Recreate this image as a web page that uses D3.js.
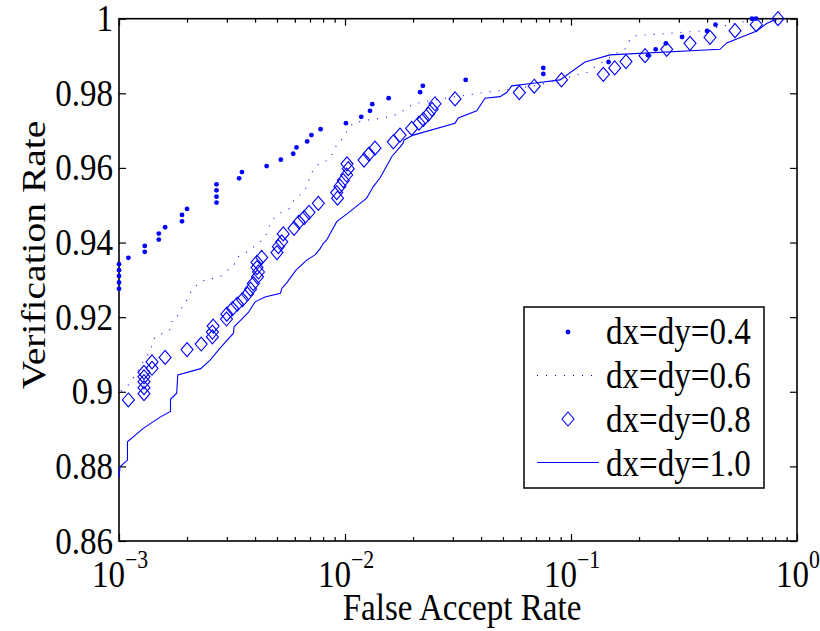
<!DOCTYPE html>
<html>
<head>
<meta charset="utf-8">
<script src="https://cdn.jsdelivr.net/npm/d3@7/dist/d3.min.js"></script>
<style>
  html, body { margin: 0; padding: 0; background: #fff; }
</style>
</head>
<body>
<svg id="chart" width="820" height="631" font-family="'Liberation Serif', 'DejaVu Serif', serif"></svg>
<script>
// Verification rate vs. false accept rate for four grid spacings

const seriesNames = ["dx=dy=0.4", "dx=dy=0.6", "dx=dy=0.8", "dx=dy=1.0"];

// dx=dy=0.4 (dot markers)
const far04 = [0.001, 0.001, 0.001, 0.001, 0.001, 0.0011, 0.0013, 0.0013, 0.0015, 0.0015,
  0.0016, 0.0019, 0.0019, 0.0020, 0.0027, 0.0027, 0.0027, 0.0027, 0.0034, 0.0035,
  0.0045, 0.0052, 0.0059, 0.0061, 0.0068, 0.0071, 0.0078, 0.0101, 0.0118, 0.0129,
  0.0132, 0.0156, 0.0215, 0.0221, 0.0342, 0.0754, 0.0754, 0.1466, 0.219, 0.237,
  0.263, 0.31, 0.40, 0.436, 0.632, 0.659];
const vr04 = [0.9276, 0.9293, 0.9310, 0.9326, 0.9342, 0.9359, 0.9375, 0.9391, 0.9408, 0.9424,
  0.9441, 0.9457, 0.9474, 0.9490, 0.9507, 0.9523, 0.9540, 0.9556, 0.9572, 0.9589,
  0.9605, 0.9622, 0.9638, 0.9655, 0.9671, 0.9688, 0.9704, 0.9720, 0.9737, 0.9753,
  0.9771, 0.9787, 0.9803, 0.9820, 0.9836, 0.9852, 0.9868, 0.9884, 0.9902, 0.9918,
  0.9934, 0.9951, 0.9967, 0.9984, 1.0, 1.0];

// dx=dy=0.6 (dotted line)
const far06 = [0.00102, 0.00109, 0.00119, 0.0013, 0.00137, 0.00144, 0.00158, 0.0017, 0.00172, 0.00184,
  0.0019, 0.002, 0.00208, 0.00219, 0.00233, 0.0028, 0.003, 0.00323, 0.00333, 0.00357,
  0.00388, 0.00421, 0.00447, 0.00461, 0.0048, 0.00516, 0.00565, 0.00601, 0.00639, 0.00679,
  0.00693, 0.00722, 0.00767, 0.00841, 0.00885, 0.00922, 0.0098, 0.01031, 0.01085, 0.01189,
  0.01428, 0.01565, 0.01716, 0.01862, 0.02, 0.02214, 0.02633, 0.03538, 0.04293, 0.04706,
  0.06861, 0.0894, 0.099, 0.1189, 0.1277, 0.1385, 0.1597, 0.1734, 0.1806, 0.19,
  0.2104, 0.3723, 0.4517, 0.6008, 0.7218];
const vr06 = [0.9002, 0.9015, 0.9048, 0.9088, 0.9107, 0.9147, 0.9158, 0.9168, 0.9195, 0.9206,
  0.9227, 0.9246, 0.9267, 0.9283, 0.9297, 0.9308, 0.9324, 0.934, 0.9361, 0.9369,
  0.9385, 0.9401, 0.942, 0.9442, 0.9463, 0.9479, 0.949, 0.9519, 0.953, 0.9549,
  0.957, 0.9594, 0.9611, 0.9621, 0.964, 0.9664, 0.968, 0.9702, 0.972, 0.9726,
  0.9733, 0.9737, 0.9745, 0.9758, 0.9771, 0.9777, 0.9785, 0.9796, 0.9804, 0.9806,
  0.982, 0.9836, 0.9844, 0.9857, 0.9871, 0.9884, 0.9908, 0.9919, 0.994, 0.9954,
  0.9956, 0.9967, 0.9978, 0.9994, 1.0];

// dx=dy=0.8 (diamond markers)
const far08 = [0.0011, 0.00129, 0.00129, 0.00129, 0.00129, 0.00129, 0.0014, 0.0014, 0.0016, 0.0020,
  0.00231, 0.00259, 0.00259, 0.00261, 0.00299, 0.0030, 0.00318, 0.00334, 0.00352, 0.0037,
  0.00382, 0.00393, 0.0041, 0.00414, 0.00408, 0.00408, 0.00428, 0.0050, 0.00507, 0.00525,
  0.00533, 0.00595, 0.00626, 0.00659, 0.00693, 0.00762, 0.00927, 0.00919, 0.0095, 0.00983,
  0.01017, 0.01034, 0.0102, 0.01214, 0.01277, 0.01357, 0.01636, 0.01751, 0.01973, 0.02126,
  0.02221, 0.02337, 0.02427, 0.02502, 0.03068, 0.05905, 0.06875, 0.09078, 0.1390, 0.1561,
  0.1751, 0.2126, 0.2651, 0.3362, 0.4121, 0.5318, 0.6605, 0.8240];
const vr08 = [0.8978, 0.8995, 0.9011, 0.9027, 0.9040, 0.9052, 0.9063, 0.9080, 0.9092, 0.9113,
  0.9128, 0.9147, 0.9160, 0.9176, 0.9195, 0.9208, 0.9223, 0.9235, 0.9247, 0.9262,
  0.9275, 0.9290, 0.9308, 0.9321, 0.9333, 0.9347, 0.9360, 0.9373, 0.9389, 0.9402,
  0.9423, 0.9438, 0.9455, 0.9467, 0.9481, 0.9505, 0.9519, 0.9534, 0.9551, 0.9566,
  0.9581, 0.9598, 0.9611, 0.9621, 0.9637, 0.9653, 0.9670, 0.9688, 0.9706, 0.9720,
  0.9730, 0.9744, 0.9757, 0.9772, 0.9785, 0.9802, 0.9819, 0.9836, 0.9851, 0.9868,
  0.9885, 0.9901, 0.9918, 0.9934, 0.9950, 0.9968, 0.9984, 1.0];

// dx=dy=1.0 (solid line)
const far10 = [0.001, 0.00101, 0.00109, 0.00109, 0.00128, 0.00152, 0.00169, 0.00169, 0.0018, 0.00182,
  0.0023, 0.00253, 0.0028, 0.00321, 0.00323, 0.00373, 0.0040, 0.00443, 0.00518, 0.00525,
  0.00552, 0.00607, 0.00677, 0.00737, 0.00775, 0.00802, 0.0083, 0.00919, 0.01017, 0.01145,
  0.01247, 0.01334, 0.01428, 0.01581, 0.01609, 0.01751, 0.01811, 0.01824, 0.02006, 0.03068,
  0.03172, 0.03826, 0.04165, 0.04851, 0.05195, 0.05467, 0.06812, 0.0894, 0.1153, 0.1488,
  0.4563, 0.4887, 0.6633, 0.7341, 0.8156];
const vr10 = [0.8769, 0.8799, 0.8817, 0.8866, 0.8902, 0.8932, 0.8947, 0.8980, 0.8996, 0.9045,
  0.9062, 0.9085, 0.9117, 0.9157, 0.9174, 0.9212, 0.9241, 0.9254, 0.9264, 0.9277,
  0.9292, 0.9326, 0.9353, 0.9367, 0.9383, 0.9398, 0.9407, 0.9456, 0.9476, 0.9501,
  0.9519, 0.9550, 0.9573, 0.9621, 0.9630, 0.9656, 0.9667, 0.9675, 0.9688, 0.9720,
  0.9734, 0.9753, 0.9787, 0.9791, 0.9802, 0.9820, 0.9827, 0.9836, 0.9884, 0.9903,
  0.9918, 0.9935, 0.9967, 0.9987, 1.0];

const farMajor = [1e-3, 1e-2, 1e-1, 1];
const farExponents = ["\u22123", "\u22122", "\u22121", "0"];
const vrTicks = [0.86, 0.88, 0.9, 0.92, 0.94, 0.96, 0.98, 1];
const vrTickLabels = ["0.86", "0.88", "0.9", "0.92", "0.94", "0.96", "0.98", "1"];

const xLabel = "False Accept Rate";
const yLabel = "Verification Rate";

const blue = "#0000ff";
const plot = { left: 119, right: 797, top: 18.7, bottom: 541 };
const fontSize = 38;
const textScaleX = 0.87;   // glyphs are set narrower than they are tall
const serif = "'Liberation Serif', 'DejaVu Serif', serif";

const svg = d3.select("#chart");

const x = d3.scaleLog().domain([1e-3, 1]).range([plot.left, plot.right]);
const y = d3.scaleLinear().domain([0.86, 1]).range([plot.bottom, plot.top]);

const zip = (a, b) => a.map((v, i) => [v, b[i]]);

// minor ticks at 2..9 of every decade
const farMinor = [];
for (let e = -3; e < 0; e++) for (let m = 2; m <= 9; m++) farMinor.push(m * Math.pow(10, e));

const axisG = svg.append("g");

function tickAxis(axisFn, values, size, transform) {
  const g = axisG.append("g").attr("transform", transform)
    .call(axisFn.tickValues(values).tickSize(size).tickFormat(""));
  g.select(".domain").remove();
  g.selectAll(".tick line").attr("stroke", "#000").attr("stroke-width", 1.2);
  return g;
}

// inward ticks on all four sides
tickAxis(d3.axisBottom(x), farMajor, -7, `translate(0,${plot.bottom})`);
tickAxis(d3.axisBottom(x), farMinor, -4, `translate(0,${plot.bottom})`);
tickAxis(d3.axisTop(x), farMajor, -7, `translate(0,${plot.top})`);
tickAxis(d3.axisTop(x), farMinor, -4, `translate(0,${plot.top})`);
tickAxis(d3.axisLeft(y), vrTicks, -7, `translate(${plot.left},0)`);
tickAxis(d3.axisRight(y), vrTicks, -7, `translate(${plot.right},0)`);

// box
axisG.append("rect")
  .attr("x", plot.left).attr("y", plot.top)
  .attr("width", plot.right - plot.left).attr("height", plot.bottom - plot.top)
  .attr("fill", "none").attr("stroke", "#000").attr("stroke-width", 1.6);

function serifText(parent, transform, anchor, size) {
  return parent.append("g")
    .attr("transform", transform)
    .append("text")
    .attr("font-family", serif)
    .attr("fill", "#000")
    .attr("text-anchor", anchor)
    .attr("font-size", size);
}

// y tick labels
vrTicks.forEach((v, i) => {
  serifText(axisG, `translate(${plot.left - 6},${y(v) + 12.5}) scale(${textScaleX},1)`, "end", fontSize)
    .text(vrTickLabels[i]);
});

// x tick labels: 10 with exponent
farMajor.forEach((v, i) => {
  const t = serifText(axisG, `translate(${x(v) + 1},587) scale(${textScaleX},1)`, "middle", fontSize);
  t.append("tspan").text("10");
  t.append("tspan").attr("font-size", 25).attr("dy", -19).text(farExponents[i]);
});

// axis titles
serifText(axisG, `translate(462,620) scale(${textScaleX},1)`, "middle", fontSize).text(xLabel);
serifText(axisG, `translate(45,255) scale(${textScaleX},1) rotate(-90)`, "middle", 39.5).text(yLabel);

// series
const dataG = svg.append("g");

const line = d3.line().x(d => x(d[0])).y(d => y(d[1]));

// solid line, dx=dy=1.0
dataG.append("path").datum(zip(far10, vr10))
  .attr("d", line).attr("fill", "none").attr("stroke", blue).attr("stroke-width", 1.1);

// dotted line, dx=dy=0.6
dataG.append("path").datum(zip(far06, vr06))
  .attr("d", line).attr("fill", "none").attr("stroke", blue).attr("stroke-width", 1.1)
  .attr("stroke-dasharray", "1,8");

// diamonds, dx=dy=0.8
const diamond = "M0,-7L6,0L0,7L-6,0Z";
dataG.selectAll("path.d08").data(zip(far08, vr08)).enter().append("path")
  .attr("class", "d08")
  .attr("d", diamond)
  .attr("transform", d => `translate(${x(d[0])},${y(d[1])})`)
  .attr("fill", "none").attr("stroke", blue).attr("stroke-width", 1.1);

// dots, dx=dy=0.4
dataG.selectAll("circle.d04").data(zip(far04, vr04)).enter().append("circle")
  .attr("class", "d04")
  .attr("cx", d => x(d[0])).attr("cy", d => y(d[1])).attr("r", 2.4)
  .attr("fill", blue);

// legend
const lg = svg.append("g");
const box = { x: 524, y: 307, w: 240, h: 181 };
lg.append("rect").attr("x", box.x).attr("y", box.y).attr("width", box.w).attr("height", box.h)
  .attr("fill", "#fff").attr("stroke", "#000").attr("stroke-width", 1.5);

const markY = [332, 375.5, 419, 462.5];
const baseY = [344, 388, 432, 476];
const sampleX0 = 537, sampleX1 = 599, sampleXm = 568;

lg.append("circle").attr("cx", sampleXm).attr("cy", markY[0]).attr("r", 2.4).attr("fill", blue);
lg.append("line").attr("x1", sampleX0).attr("x2", sampleX1).attr("y1", markY[1]).attr("y2", markY[1])
  .attr("stroke", blue).attr("stroke-width", 1.1).attr("stroke-dasharray", "1,8");
lg.append("path").attr("d", diamond).attr("transform", `translate(${sampleXm},${markY[2]})`)
  .attr("fill", "none").attr("stroke", blue).attr("stroke-width", 1.1);
lg.append("line").attr("x1", sampleX0).attr("x2", sampleX1).attr("y1", markY[3]).attr("y2", markY[3])
  .attr("stroke", blue).attr("stroke-width", 1.1);

seriesNames.forEach((name, i) => {
  serifText(lg, `translate(606,${baseY[i]}) scale(${textScaleX},1)`, "start", fontSize).text(name);
});
</script>
</body>
</html>
